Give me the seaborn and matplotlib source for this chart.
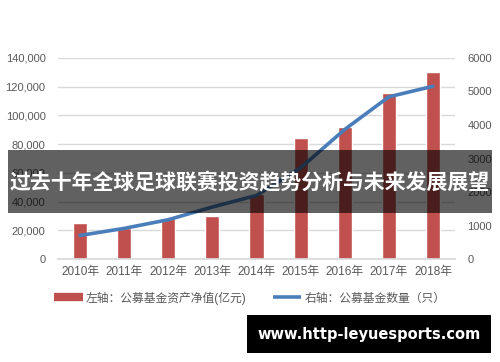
import numpy as np
import pandas as pd
import matplotlib
matplotlib.use("Agg")
import matplotlib.pyplot as plt
import seaborn as sns
from matplotlib.patches import Rectangle
from matplotlib.lines import Line2D

years = ["2010年", "2011年", "2012年", "2013年", "2014年", "2015年", "2016年", "2017年", "2018年"]
aum = [25200, 21900, 28700, 30000, 45400, 84000, 91600, 115900, 130300]      # 公募基金资产净值(亿元)
fund_count = [704, 914, 1173, 1552, 1897, 2722, 3867, 4841, 5156]              # 公募基金数量(只)
left_ticks = [0, 20000, 40000, 60000, 80000, 100000, 120000, 140000]
right_ticks = [0, 1000, 2000, 3000, 4000, 5000, 6000]
bar_label = "左轴：公募基金资产净值(亿元)"
line_label = "右轴：公募基金数量（只）"
banner_text = "过去十年全球足球联赛投资趋势分析与未来发展展望"
watermark = "www.http-leyuesports.com"

sns.set_theme(style="white")
plt.rcParams['font.family'] = ['Liberation Sans', 'Noto Sans CJK SC', 'DejaVu Sans']

df = pd.DataFrame({"year": years, "aum": aum, "count": fund_count})
df["pos"] = np.arange(len(years))

BAR = "#C0504D"
LINE = "#4A7EBB"
TXT = "#595959"

fig = plt.figure(figsize=(5, 3.62), dpi=100)
ax = fig.add_axes([0.116, 0.2845, 0.794, 0.5553])

sns.barplot(data=df, x="year", y="aum", color=BAR, width=0.32, ax=ax, saturation=1)
ax.set_xlim(-0.5, len(years) - 0.5)
ax.set_ylim(0, 140000)
ax.set_yticks(left_ticks)
ax.set_yticklabels([f"{v:,}" for v in left_ticks])
ax.yaxis.grid(True, color="#D9D9D9", linewidth=1)
ax.set_axisbelow(True)
for s in ["top", "right", "left"]:
    ax.spines[s].set_visible(False)
ax.spines["bottom"].set_color("#D9D9D9")
ax.set_xlabel("")
ax.set_ylabel("")
ax.tick_params(axis="y", length=0, pad=9, labelsize=8, labelcolor=TXT)
ax.tick_params(axis="x", length=0, pad=5, labelsize=8.5, labelcolor=TXT)

ax2 = ax.twinx()
sns.lineplot(data=df, x="pos", y="count", color=LINE, linewidth=2.6, ax=ax2)
ax2.set_xlim(-0.5, len(years) - 0.5)
ax2.set_ylim(0, 6000)
ax2.set_yticks(right_ticks)
ax2.set_yticklabels([str(v) for v in right_ticks])
ax2.tick_params(axis="y", length=0, pad=9, labelsize=8, labelcolor=TXT)
for s in ax2.spines.values():
    s.set_visible(False)
ax2.set_ylabel("")
ax2.set_xlabel("")
ax2.grid(False)

handles = [Line2D([0], [0], color=BAR, linewidth=6, solid_capstyle="butt"),
           Line2D([0], [0], color=LINE, linewidth=2.6, solid_capstyle="butt")]
fig.legend(handles, [bar_label, line_label], loc="center", bbox_to_anchor=(0.5, 0.177),
           ncol=2, frameon=False, fontsize=8.5, labelcolor=TXT, handlelength=2.4,
           handletextpad=0.3, columnspacing=2.2)

fig.add_artist(Rectangle((0.016, 0.4116), 0.968, 0.174, transform=fig.transFigure,
                         facecolor="black", alpha=0.62, edgecolor="none", zorder=10))
fig.text(0.5, 0.4945, banner_text, ha="center", va="center", color="white",
         fontsize=15, fontweight="bold", family=["Noto Sans CJK SC"], zorder=11)

fig.add_artist(Rectangle((0.494, 0.0249), 0.488, 0.105, transform=fig.transFigure,
                         facecolor="black", edgecolor="none", zorder=10))
fig.text(0.738, 0.0773, watermark, ha="center", va="center", color="white",
         fontsize=10.5, fontweight="bold", family=["DejaVu Sans"], zorder=11)

fig.savefig("out.png", dpi=100)
